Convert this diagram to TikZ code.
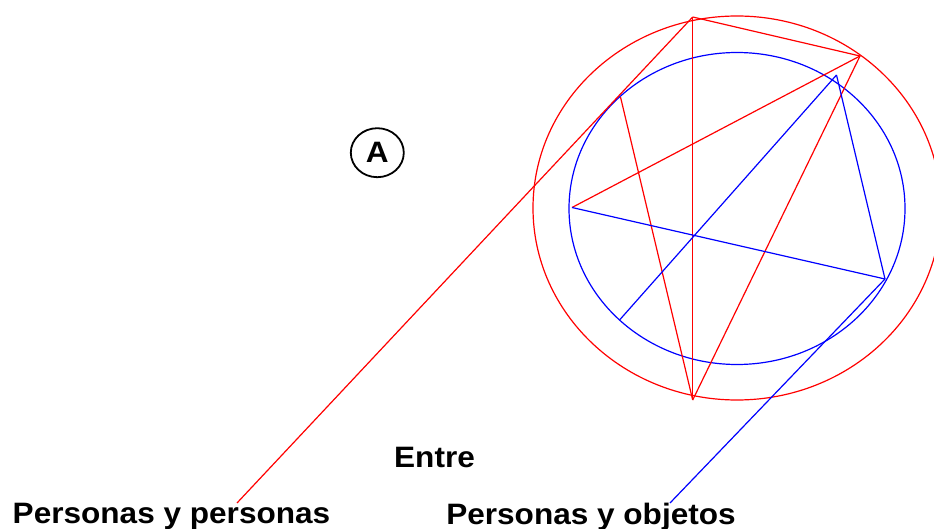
\documentclass[tikz,border=0pt]{standalone}
\usepackage{fontspec}
\setmainfont{Liberation Sans}[FakeStretch=1.07]
\usetikzlibrary{shapes.geometric}
\begin{document}
\begin{tikzpicture}[x=1pt,y=-1pt,
  redline/.style={draw=red,line width=1.2pt},
  blueline/.style={draw=blue,line width=1.2pt},
  lbl/.style={inner sep=0pt,anchor=base,font=\fontsize{29.5}{35}\selectfont\bfseries},
  letterring/.style={ellipse,draw=black,line width=1.8pt,minimum width=53pt,minimum height=49pt,inner sep=0pt,font=\fontsize{29.5}{35}\selectfont\bfseries}]
\useasboundingbox (0,0) rectangle (934,529);
\clip (0,0) rectangle (934,529);
% circles
\draw[redline] (737,208) ellipse [x radius=204, y radius=192];
\draw[blueline] (737,208.5) ellipse [x radius=168, y radius=156];
% red vertices
\coordinate (T) at (692.7,17);
\coordinate (R) at (860,56);
\coordinate (B) at (692.7,400);
\coordinate (L) at (572,207.5);
\coordinate (P) at (620.5,97);
\coordinate (Rend) at (237,503);
% blue vertices
\coordinate (Q) at (885,279);
\coordinate (S) at (836.5,75);
\coordinate (U) at (620,319.5);
\coordinate (Bend) at (670,503);
% red lines
\draw[redline] (T) -- (R);
\draw[redline] (T) -- (B);
\draw[redline] (R) -- (L);
\draw[redline] (R) -- (B);
\draw[redline] (P) -- (B);
\draw[redline] (T) -- (Rend);
% blue lines
\draw[blueline] (L) -- (Q);
\draw[blueline] (Q) -- (S);
\draw[blueline] (S) -- (U);
\draw[blueline] (Q) -- (Bend);
% labels
\node[letterring] (A) at (377.3,152.7) {A};
\node[lbl] (entre) at (434.5,467.5) {Entre};
\node[lbl] (pp) at (171.5,523.3) {Personas y personas};
\node[lbl] (po) at (591,524) {Personas y objetos};
\end{tikzpicture}
\end{document}
